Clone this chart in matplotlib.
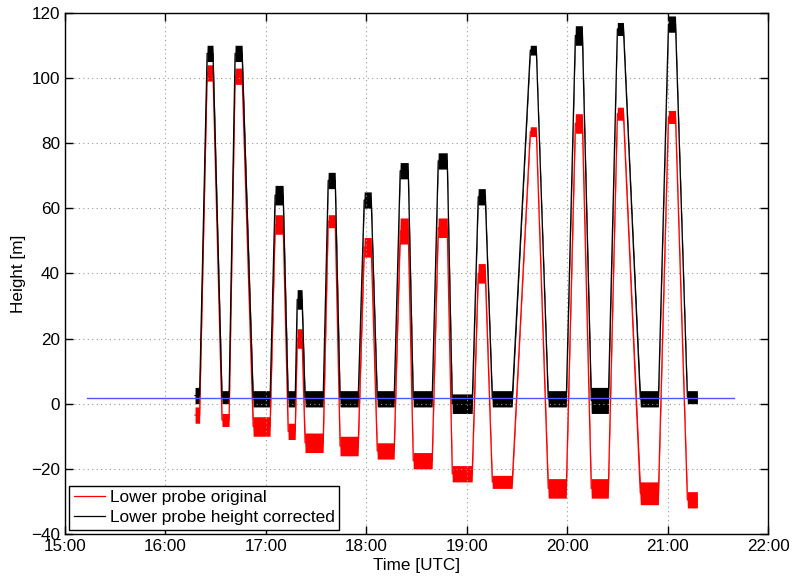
import numpy as np
import matplotlib
matplotlib.use('Agg')
import matplotlib.pyplot as plt
from matplotlib.ticker import FuncFormatter, MultipleLocator

plt.rcParams['font.family'] = ['Liberation Sans', 'DejaVu Sans']

# time in minutes after 15:00 UTC, vertices of the flight profiles
t_min = [77.7, 80.4, 84.9, 88.4, 93.8, 98.0, 101.6, 105.8,
         112.4, 122.5, 125.5, 130.3, 133.3, 137.5, 138.7, 141.6,
         143.4, 154.2, 157.2, 161.4, 164.3, 175.1, 178.7, 182.9,
         186.5, 196.6, 200.2, 205.0, 208.0, 219.3, 222.9, 228.3,
         231.3, 243.2, 246.8, 251.0, 255.2, 267.1, 277.9, 281.5,
         288.6, 299.4, 304.8, 309.0, 314.3, 324.5, 329.9, 333.5,
         343.6, 354.4, 360.4, 364.6, 371.7, 377.7]

# corrected height (black): noise band low / high
black_lo = [0, 0, 105, 105, 0, 0, 105, 105,
            -1, -1, 61, 61, -1, -1, 29, 29,
            -1, -1, 66, 66, -1, -1, 60, 60,
            -1, -1, 69, 69, -1, -1, 72, 72,
            -3, -3, 61, 61, -1, -1, 107, 107,
            -1, -1, 110, 110, -3, -3, 113, 113,
            -1, -1, 114, 114, 0, 0]
black_hi = [5, 5, 110, 110, 4, 4, 110, 110,
            4, 4, 67, 67, 4, 4, 35, 35,
            4, 4, 71, 71, 4, 4, 65, 65,
            4, 4, 74, 74, 4, 4, 77, 77,
            3, 3, 66, 66, 4, 4, 110, 110,
            4, 4, 116, 116, 5, 5, 117, 117,
            4, 4, 119, 119, 4, 4]

# original height (red)
red_lo = [-6, -6, 99, 99, -7, -7, 98, 98,
          -10, -10, 52, 52, -11, -11, 17, 17,
          -15, -15, 54, 54, -16, -16, 45, 45,
          -17, -17, 49, 49, -20, -20, 51, 51,
          -24, -24, 37, 37, -26, -26, 82, 82,
          -29, -29, 83, 83, -29, -29, 87, 87,
          -31, -31, 86, 86, -32, -32]
red_hi = [-1, -1, 104, 104, -3, -3, 103, 103,
          -4, -4, 58, 58, -6, -6, 23, 23,
          -9, -9, 58, 58, -10, -10, 51, 51,
          -12, -12, 57, 57, -15, -15, 57, 57,
          -19, -19, 43, 43, -22, -22, 85, 85,
          -23, -23, 89, 89, -23, -23, 91, 91,
          -24, -24, 90, 90, -27, -27]

ref_t = [13.1, 399.8]
ref_h = [1.8, 1.8]

t = np.array(t_min) / 60.0
rt = np.array(ref_t) / 60.0

fig = plt.figure(figsize=(7.92, 5.77), dpi=100)
ax = fig.add_axes([0.082, 0.0745, 0.888, 0.9035])

rlo, rhi = np.array(red_lo), np.array(red_hi)
blo, bhi = np.array(black_lo), np.array(black_hi)

ax.fill_between(t, rlo, rhi, color='r', lw=0)
ax.plot(t, (rlo + rhi) / 2, color='r', lw=0.9, label='Lower probe original')
ax.fill_between(t, blo, bhi, color='k', lw=0)
ax.plot(t, (blo + bhi) / 2, color='k', lw=0.9, label='Lower probe height corrected')
ax.plot(rt, ref_h, color='#5555ff', lw=1.0)

ax.set_xlim(0, 7)
ax.set_ylim(-40, 120)
ax.xaxis.set_major_locator(MultipleLocator(1))
ax.yaxis.set_major_locator(MultipleLocator(20))
ax.xaxis.set_major_formatter(FuncFormatter(lambda v, p: '%d:00' % (15 + int(round(v)))))
ax.yaxis.set_major_formatter(FuncFormatter(lambda v, p: ('%d' % v).replace('-', '\u2212')))
ax.tick_params(direction='in', top=True, right=True, length=6, labelsize=12.3, width=1)
ax.grid(True, linestyle=(0, (1, 3)), color='#999999', lw=0.8)
for s in ax.spines.values():
    s.set_linewidth(1)

ax.set_xlabel('Time [UTC]', fontsize=12.3, labelpad=3)
ax.set_ylabel('Height [m]', fontsize=12.3, labelpad=4)

leg = ax.legend(loc='lower left', fontsize=12.4, fancybox=False, framealpha=1,
                edgecolor='k', borderpad=0.25, handlelength=1.85,
                handletextpad=0.25, labelspacing=0.3, borderaxespad=0.25)
leg.get_frame().set_linewidth(1)

fig.savefig('out.png', dpi=100)
